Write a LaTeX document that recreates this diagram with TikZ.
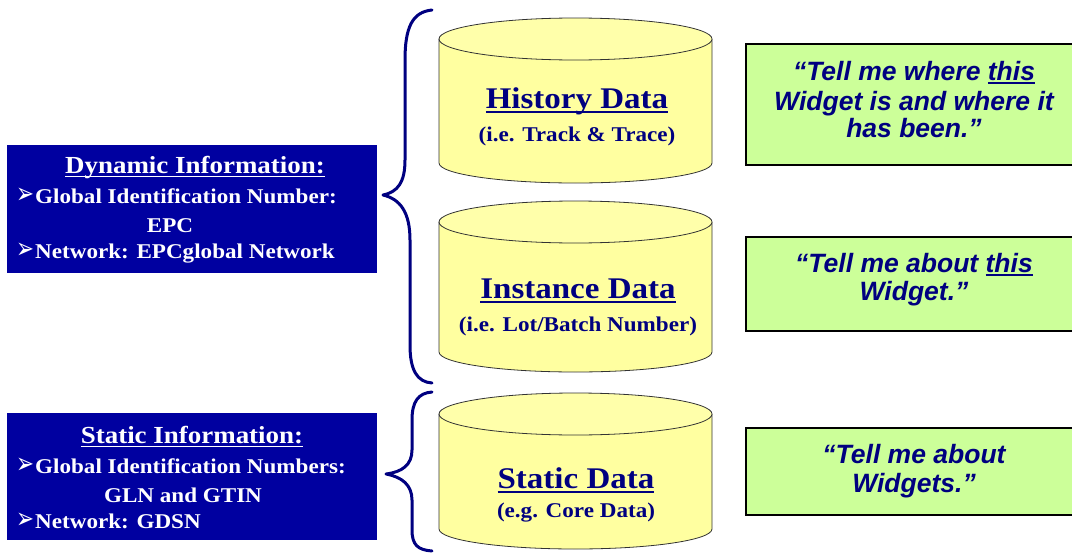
\documentclass[tikz,border=0pt]{standalone}
\usepackage{fontspec}
\setmainfont{Liberation Serif}
\newfontfamily\garf[FakeStretch=1.1]{Liberation Serif}
\newfontfamily\arialf{Liberation Sans}
\newfontfamily\djv{DejaVu Sans}
\definecolor{boxblue}{RGB}{0,0,160}
\definecolor{navy}{RGB}{0,0,128}
\definecolor{cylfill}{RGB}{255,255,160}
\definecolor{cyltop}{RGB}{255,255,170}
\definecolor{qgreen}{RGB}{204,255,153}
\newcommand{\bul}{\raisebox{-0.5pt}{\resizebox{18pt}{15.5pt}{\djv ➢}}\hspace{1pt}}
\newcommand{\ulin}[3]{\leavevmode\setbox0\hbox{#3}\rlap{\rule[#1]{\wd0}{#2}}\box0}
\begin{document}
\begin{tikzpicture}[x=1pt,y=-1pt,
  bluebox/.style={draw=none,fill=boxblue,inner sep=0pt,outer sep=0pt},
  wtitle/.style={text=white,font=\garf\bfseries\fontsize{24.5}{28}\selectfont,inner sep=0pt},
  wbody/.style={text=white,font=\garf\bfseries\fontsize{21}{24}\selectfont,inner sep=0pt},
  ctitle/.style={text=navy,font=\garf\bfseries\fontsize{30}{32}\selectfont,inner sep=0pt},
  csub/.style={text=navy,font=\garf\bfseries\fontsize{21}{24}\selectfont,inner sep=0pt},
  gbox/.style={draw=black,line width=2.5pt,fill=qgreen,inner sep=0pt,outer sep=0pt},
  gtext/.style={text=navy,font=\arialf\bfseries\itshape\fontsize{26.5}{30}\selectfont,inner sep=0pt},
  brace/.style={draw=navy,line width=3pt,line cap=round,line join=round},
  cylline/.style={draw=black!80,line width=0.8pt},
]
\useasboundingbox (0,0) rectangle (1072,554);
\fill[white] (0,0) rectangle (1072,554);

% ---------- blue boxes ----------
\node[bluebox,minimum width=370pt,minimum height=128pt,anchor=north west] (dyn) at (7,145) {};
\node[wtitle,anchor=base] (dynt) at (195,173) {\ulin{-4pt}{1.3pt}{Dynamic Information:}};
\node[wbody,anchor=base west] (dyn1) at (16,203) {\bul Global Identification Number:};
\node[wbody,anchor=base] (dyn2) at (170,232) {EPC};
\node[wbody,anchor=base west] (dyn3) at (16,258) {\bul Network: EPCglobal Network};

\node[bluebox,minimum width=370pt,minimum height=127pt,anchor=north west] (sta) at (7,413) {};
\node[wtitle,anchor=base] (stat) at (192,443) {\ulin{-4pt}{1.3pt}{Static Information:}};
\node[wbody,anchor=base west] (sta1) at (16,473) {\bul Global Identification Numbers:};
\node[wbody,anchor=base] (sta2) at (183,502) {GLN and GTIN};
\node[wbody,anchor=base west] (sta3) at (16,528) {\bul Network: GDSN};

% ---------- braces ----------
\path[brace] (432,10) .. controls (412,12) and (405,28) .. (405,60)
  -- (405,160) .. controls (405,182) and (398,192) .. (383,195)
  .. controls (400,199) and (410,212) .. (410,240)
  -- (410,345) .. controls (410,370) and (417,382) .. (432,383);
\path[brace] (432,392) .. controls (418,393) and (412,402) .. (412,420)
  -- (412,450) .. controls (412,465) and (402,472) .. (386,474)
  .. controls (402,477) and (412,485) .. (412,500)
  -- (412,530) .. controls (412,545) and (418,550) .. (432,551);

% ---------- cylinders ----------
\foreach \yt/\yb in {39/163, 222/352, 414/529}{
  \fill[cylfill] (439,\yt) -- (439,\yb) arc[start angle=180,end angle=0,x radius=136.5,y radius=20] -- (712,\yt) -- cycle;
  \draw[cylline] (439,\yt) -- (439,\yb) arc[start angle=180,end angle=0,x radius=136.5,y radius=20] -- (712,\yt);
  \draw[cylline,fill=cyltop] (575.5,\yt) ellipse[x radius=136.5,y radius=21];
}
\node[ctitle,anchor=base] (hist) at (577,108) {\ulin{-4.5pt}{1.5pt}{History Data}};
\node[csub,anchor=base] (histsub) at (577,141) {(i.e. Track \& Trace)};
\node[ctitle,anchor=base] (inst) at (578,298) {\ulin{-4.5pt}{1.5pt}{Instance Data}};
\node[csub,anchor=base] (instsub) at (578,331) {(i.e. Lot/Batch Number)};
\node[ctitle,anchor=base] (stdat) at (576,488) {\ulin{-4.5pt}{1.5pt}{Static Data}};
\node[csub,anchor=base] (stdatsub) at (576,517) {(e.g. Core Data)};

% ---------- green boxes ----------
\node[gbox,minimum width=334pt,minimum height=121pt,anchor=north west] (q1) at (746,44) {};
\node[gtext,anchor=base] (q1a) at (914,80) {“Tell me where \ulin{-3.5pt}{2pt}{this}};
\node[gtext,anchor=base] (q1b) at (914,110) {Widget is and where it};
\node[gtext,anchor=base] (q1c) at (914,137) {has been.”};

\node[gbox,minimum width=334pt,minimum height=94pt,anchor=north west] (q2) at (746,237) {};
\node[gtext,anchor=base] (q2a) at (914,272) {“Tell me about \ulin{-3.5pt}{2pt}{this}};
\node[gtext,anchor=base] (q2b) at (914,300) {Widget.”};

\node[gbox,minimum width=334pt,minimum height=87pt,anchor=north west] (q3) at (746,428) {};
\node[gtext,anchor=base] (q3a) at (914,463) {“Tell me about};
\node[gtext,anchor=base] (q3b) at (914,492) {Widgets.”};
\end{tikzpicture}
\end{document}
